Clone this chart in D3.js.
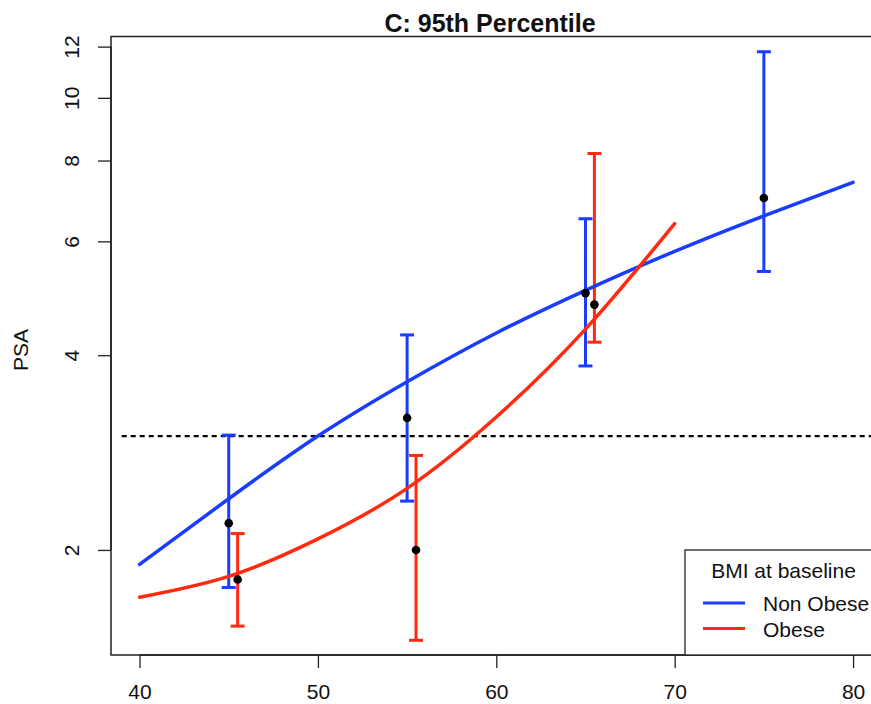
<!DOCTYPE html>
<html>
<head>
<meta charset="utf-8">
<script src="https://cdn.jsdelivr.net/npm/d3@7/dist/d3.min.js"></script>
<style>
  html, body { margin: 0; padding: 0; background: #fff; }
  svg { display: block; font-family: "Liberation Sans", Arial, Helvetica, sans-serif; }
</style>
</head>
<body>
<svg id="chart" width="871" height="704"></svg>
<script>
// Fitted 95th-percentile PSA curves by age
const curveAgesNonObese = [40, 45, 50, 55, 60, 65, 70, 75, 80];
const fitNonObese       = [1.90, 2.40, 3.00, 3.64, 4.33, 5.04, 5.79, 6.57, 7.40];
const curveAgesObese    = [40, 45, 50, 55, 60, 65, 70];
const fitObese          = [1.69, 1.82, 2.08, 2.49, 3.21, 4.39, 6.39];

// Observed estimates with intervals per age group (obese shifted half a year)
const groupAgesNonObese = [45, 55, 65, 75];
const pointNonObese     = [2.20, 3.20, 4.99, 7.00];
const lowerNonObese     = [1.75, 2.38, 3.85, 5.39];
const upperNonObese     = [3.01, 4.30, 6.50, 11.78];
const groupAgesObese    = [45.5, 55.5, 65.5];
const pointObese        = [1.80, 2.00, 4.79];
const lowerObese        = [1.525, 1.45, 4.19];
const upperObese        = [2.12, 2.80, 8.20];

// Reference threshold and axis ticks
const thresholdPSA = 3;
const thresholdAges = [39, 82];
const xTicks = [40, 50, 60, 70, 80];
const yTicks = [2, 4, 6, 8, 10, 12];
const xLimits = [38.4, 81.6];
const yLimits = [1.376, 12.44];

const legendTitle = "BMI at baseline";
const seriesNames = ["Non Obese", "Obese"];
const BLUE = "#1a3cff", RED = "#ff2a10";

const svg = d3.select("#chart");
const plotLeft = 111, plotRight = 881.6, plotTop = 36.5, plotBottom = 655;

const x = d3.scaleLinear().domain(xLimits).range([plotLeft, plotRight]);
const y = d3.scaleLog().domain(yLimits).range([plotBottom, plotTop]);

const fontSize = 21;

svg.append("clipPath").attr("id", "plotclip")
  .append("rect").attr("x", plotLeft).attr("y", plotTop)
  .attr("width", plotRight - plotLeft).attr("height", plotBottom - plotTop);

const plot = svg.append("g").attr("clip-path", "url(#plotclip)");

// threshold line
plot.append("line")
  .attr("x1", x(thresholdAges[0])).attr("x2", x(thresholdAges[1]))
  .attr("y1", y(thresholdPSA)).attr("y2", y(thresholdPSA))
  .attr("stroke", "#000").attr("stroke-width", 2.2)
  .attr("stroke-dasharray", "5,4");

// error bars
function errorBars(ages, lo, hi, color) {
  const g = plot.append("g").attr("stroke", color).attr("stroke-width", 3)
    .attr("fill", "none");
  ages.forEach((a, i) => {
    const cx = x(a);
    g.append("line").attr("x1", cx).attr("x2", cx)
      .attr("y1", y(lo[i])).attr("y2", y(hi[i]));
    [lo[i], hi[i]].forEach(v => {
      g.append("line").attr("x1", cx - 7).attr("x2", cx + 7)
        .attr("y1", y(v)).attr("y2", y(v));
    });
  });
}
errorBars(groupAgesNonObese, lowerNonObese, upperNonObese, BLUE);
errorBars(groupAgesObese, lowerObese, upperObese, RED);

// fitted curves
const line = d3.line().x(d => x(d[0])).y(d => y(d[1])).curve(d3.curveNatural);
plot.append("path")
  .attr("d", line(curveAgesNonObese.map((a, i) => [a, fitNonObese[i]])))
  .attr("fill", "none").attr("stroke", BLUE).attr("stroke-width", 3.5)
  .attr("stroke-linecap", "round");
plot.append("path")
  .attr("d", line(curveAgesObese.map((a, i) => [a, fitObese[i]])))
  .attr("fill", "none").attr("stroke", RED).attr("stroke-width", 3.5)
  .attr("stroke-linecap", "round");

// observed points
function points(ages, vals) {
  plot.append("g").selectAll("circle")
    .data(ages.map((a, i) => [a, vals[i]]))
    .join("circle")
    .attr("cx", d => x(d[0])).attr("cy", d => y(d[1]))
    .attr("r", 4.3).attr("fill", "#000");
}
points(groupAgesNonObese, pointNonObese);
points(groupAgesObese, pointObese);

// plot frame
svg.append("rect")
  .attr("x", plotLeft).attr("y", plotTop)
  .attr("width", plotRight - plotLeft).attr("height", plotBottom - plotTop)
  .attr("fill", "none").attr("stroke", "#222").attr("stroke-width", 1.5);

// x axis
const xAxis = svg.append("g")
  .attr("transform", `translate(0,${plotBottom})`)
  .call(d3.axisBottom(x).tickValues(xTicks).tickFormat(d3.format("d"))
    .tickSize(13).tickPadding(16).tickSizeOuter(0));
xAxis.select(".domain").attr("d", `M${x(xTicks[0])},0H${x(xTicks[xTicks.length - 1])}`)
  .attr("stroke", "#222").attr("stroke-width", 1.5);
xAxis.selectAll(".tick line").attr("stroke", "#222").attr("stroke-width", 1.3);
xAxis.selectAll(".tick text").attr("font-size", fontSize).attr("fill", "#111")
  .attr("font-family", "Liberation Sans, Arial, sans-serif");

// y axis (labels rotated, reading upward)
const yAxis = svg.append("g")
  .attr("transform", `translate(${plotLeft},0)`)
  .call(d3.axisLeft(y).tickValues(yTicks).tickFormat(d3.format("d"))
    .tickSize(13).tickSizeOuter(0));
yAxis.select(".domain").attr("d", `M0,${y(yTicks[0])}V${y(yTicks[yTicks.length - 1])}`)
  .attr("stroke", "#222").attr("stroke-width", 1.5);
yAxis.selectAll(".tick line").attr("stroke", "#222").attr("stroke-width", 1.3);
yAxis.selectAll(".tick text")
  .attr("font-size", fontSize).attr("fill", "#111")
  .attr("font-family", "Liberation Sans, Arial, sans-serif")
  .attr("x", null).attr("dy", null)
  .attr("text-anchor", "middle")
  .attr("transform", "translate(-32,0) rotate(-90)");

// y axis title
svg.append("text")
  .attr("transform", `translate(28,350) rotate(-90)`)
  .attr("text-anchor", "middle").attr("font-size", fontSize).attr("fill", "#111")
  .text("PSA");

// title
svg.append("text")
  .attr("x", 490).attr("y", 32)
  .attr("text-anchor", "middle").attr("font-size", 25).attr("font-weight", "bold")
  .attr("fill", "#111")
  .text("C: 95th Percentile");

// legend
const lg = svg.append("g");
lg.append("rect")
  .attr("x", 685).attr("y", 550).attr("width", 200).attr("height", plotBottom - 550)
  .attr("fill", "#fff").attr("stroke", "#222").attr("stroke-width", 1.3);
lg.append("text").attr("x", 783.5).attr("y", 578)
  .attr("text-anchor", "middle").attr("font-size", fontSize).attr("fill", "#111")
  .text(legendTitle);
[BLUE, RED].forEach((c, i) => {
  const yy = 603 + i * 25.5;
  lg.append("line").attr("x1", 703).attr("x2", 745).attr("y1", yy).attr("y2", yy)
    .attr("stroke", c).attr("stroke-width", 3);
  lg.append("text").attr("x", 763).attr("y", yy + 8)
    .attr("font-size", fontSize).attr("fill", "#111").text(seriesNames[i]);
});
</script>
</body>
</html>
